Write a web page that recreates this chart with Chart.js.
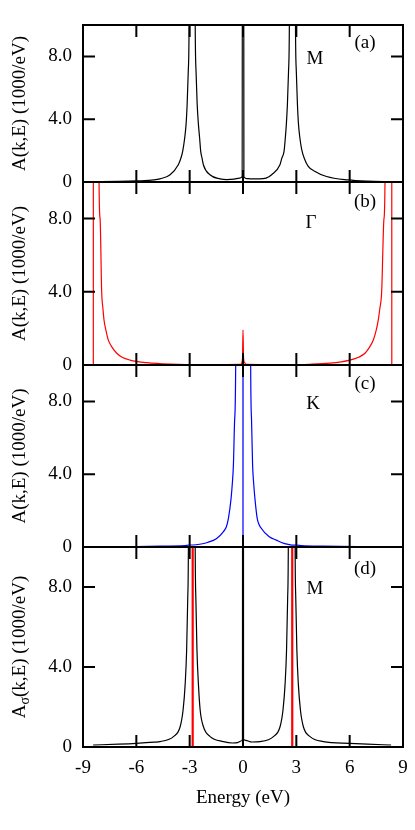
<!DOCTYPE html>
<html>
<head>
<meta charset="utf-8">
<title>Spectral function A(k,E)</title>
<script src="https://cdn.jsdelivr.net/npm/chart.js@4.4.1/dist/chart.umd.min.js"></script>
<style>
  body { margin: 0; background: #fff; }
  #wrap { position: relative; width: 415px; height: 830px; overflow: hidden; }
  #wrap canvas { position: absolute; left: 0; }
</style>
</head>
<body>
<div id="wrap">
  <canvas id="panelA"></canvas>
  <canvas id="panelB"></canvas>
  <canvas id="panelC"></canvas>
  <canvas id="panelD"></canvas>
</div>
<script>
// axis ticks
var energyTicks = [-9, -6, -3, 0, 3, 6, 9];
var intensityTicks = [0, 4, 8];

// (a) M point, A(k,E) in 1000/eV (80 = off scale)
var energyM   = [-8.4, -7.0, -6.0, -5.0, -4.67, -4.1, -3.64, -3.5, -3.39, -3.28, -3.2, -3.14, -3.08, -3.03, -2.86, -2.69, -2.64, -2.58, -2.51, -2.44, -2.38, -2.3, -2.23, -1.86, -1.29, -0.92, -0.5, -0.2, -0.05, 0, 0.05, 0.2, 0.4, 0.9, 1.3, 1.61, 2.08, 2.18, 2.31, 2.38, 2.44, 2.5, 2.56, 2.61, 2.78, 2.95, 3.0, 3.06, 3.12, 3.2, 3.3, 3.45, 3.67, 4.0, 4.7, 5.9, 7.0, 8.4];
var spectrumM = [0.02, 0.04, 0.07, 0.13, 0.2, 0.46, 1.1, 1.5, 1.97, 2.8, 3.7, 5.0, 7.0, 10.4, 80, 10.4, 7.0, 5.0, 3.7, 2.8, 1.97, 1.5, 1.1, 0.46, 0.2, 0.15, 0.18, 0.25, 0.35, 80, 0.33, 0.22, 0.2, 0.2, 0.25, 0.46, 1.1, 1.5, 1.97, 2.8, 3.7, 5.0, 7.0, 10.4, 80, 10.4, 7.0, 5.0, 3.7, 2.8, 2.08, 1.5, 1.0, 0.7, 0.35, 0.13, 0.05, 0.02];

// (b) Gamma point
var energyG   = [-8.42, -8.41, -8.15, -8.1, -8.04, -7.95, -7.88, -7.82, -7.7, -7.58, -7.35, -7.1, -6.8, -6.36, -5.42, -4.1, -2.0, -0.15, -0.03, 0, 0.03, 0.08, 0.2, 2.0, 3.77, 4.9, 6.02, 6.5, 6.86, 7.1, 7.33, 7.48, 7.61, 7.7, 7.8, 7.93, 7.99, 8.05, 8.36, 8.37];
var spectrumG = [0, 80, 80, 10.3, 8.0, 4.0, 3.1, 2.47, 1.85, 1.37, 0.95, 0.64, 0.42, 0.27, 0.13, 0.05, 0.02, 0.03, 0.3, 1.92, 0.4, 0.15, 0.03, 0.02, 0.04, 0.1, 0.27, 0.42, 0.64, 0.95, 1.37, 1.85, 2.47, 3.1, 4.0, 8.0, 10.3, 80, 80, 0];

// (c) K point
var energyK   = [-8.4, -6.0, -4.5, -3.3, -3.0, -2.8, -2.44, -2.0, -1.5, -1.1, -0.94, -0.82, -0.67, -0.6, -0.54, -0.47, -0.41, -0.3, -0.02, 0, 0.02, 0.3, 0.43, 0.48, 0.54, 0.6, 0.67, 0.8, 1.05, 1.5, 1.87, 2.3, 2.62, 2.8, 3.0, 3.3, 4.5, 6.4, 8.4];
var spectrumK = [0, 0.02, 0.05, 0.08, 0.11, 0.11, 0.15, 0.25, 0.45, 0.85, 1.1, 1.57, 2.67, 3.5, 4.49, 7.0, 10.3, 80, 80, 0, 80, 80, 10.3, 7.0, 4.49, 3.5, 2.67, 1.57, 1.0, 0.55, 0.38, 0.2, 0.13, 0.1, 0.11, 0.08, 0.05, 0.02, 0];

// (d) M point, sigma projected
var energyMs   = [-8.43, -7.0, -6.0, -5.0, -4.66, -3.91, -3.54, -3.37, -3.25, -3.17, -3.11, -3.07, -2.88, -2.69, -2.65, -2.59, -2.51, -2.41, -2.22, -1.85, -1.1, -0.6, -0.3, -0.1, -0.03, 0, 0.03, 0.15, 0.5, 0.96, 1.71, 2.08, 2.25, 2.37, 2.45, 2.51, 2.55, 2.74, 2.93, 2.97, 3.03, 3.11, 3.23, 3.4, 3.77, 4.52, 6.0, 7.0, 8.33];
var spectrumMs = [0.1, 0.14, 0.18, 0.24, 0.27, 0.52, 1.0, 1.85, 3.18, 4.85, 7.35, 10.3, 80, 10.3, 7.35, 4.85, 3.18, 1.85, 1.0, 0.52, 0.27, 0.2, 0.22, 0.3, 0.4, 80, 0.4, 0.33, 0.25, 0.27, 0.52, 1.0, 1.85, 3.18, 4.85, 7.35, 10.3, 80, 10.3, 7.35, 4.85, 3.18, 1.85, 1.0, 0.52, 0.27, 0.18, 0.14, 0.1];
var deltaEnergies = [-2.83, 2.77];
var deltaHeights = [0, 80];

var serif = '"Liberation Serif", "Times New Roman", serif';

function points(xs, ys) {
  return xs.map(function (x, i) { return { x: x, y: ys[i] }; });
}

function curve(xs, ys, color) {
  return {
    data: points(xs, ys),
    borderColor: color,
    borderWidth: 1.2,
    pointRadius: 0,
    fill: false,
    cubicInterpolationMode: 'monotone'
  };
}

function deltaLine(e) {
  return {
    data: points([e, e], deltaHeights),
    borderColor: '#ff0000',
    borderWidth: 2.2,
    pointRadius: 0,
    fill: false
  };
}

// frame, inward ticks, panel tags and y title
var panelFrame = {
  id: 'panelFrame',
  afterDatasetsDraw: function (chart, args, opts) {
    var ctx = chart.ctx, a = chart.chartArea;
    var xs = chart.scales.x, ys = chart.scales.y;
    ctx.save();
    ctx.strokeStyle = '#000';
    ctx.lineWidth = 2;
    ctx.strokeRect(a.left, a.top, a.right - a.left, a.bottom - a.top);
    ctx.beginPath();
    energyTicks.forEach(function (v) {
      if (v <= xs.min || v >= xs.max) return;
      var px = xs.getPixelForValue(v);
      ctx.moveTo(px, a.top); ctx.lineTo(px, a.top + 12);
      ctx.moveTo(px, a.bottom); ctx.lineTo(px, a.bottom - 12);
    });
    intensityTicks.forEach(function (v) {
      if (v <= ys.min || v >= ys.max) return;
      var py = ys.getPixelForValue(v);
      ctx.moveTo(a.left, py); ctx.lineTo(a.left + 12, py);
      ctx.moveTo(a.right, py); ctx.lineTo(a.right - 12, py);
    });
    ctx.stroke();

    ctx.fillStyle = '#000';
    ctx.font = '19px ' + serif;
    ctx.textAlign = 'center';
    ctx.textBaseline = 'alphabetic';
    ctx.fillText(opts.tag, xs.getPixelForValue(6.86), a.top + opts.tagDy);
    ctx.fillText(opts.point, xs.getPixelForValue(opts.pointX), a.top + opts.pointDy);

    // rotated y title, with optional subscript
    var parts = opts.title;
    var widths = parts.map(function (p) {
      ctx.font = (p.sub ? '14px ' : '19px ') + serif;
      return ctx.measureText(p.t).width;
    });
    var total = widths.reduce(function (s, w) { return s + w; }, 0);
    ctx.translate(18.5, (a.top + a.bottom) / 2);
    ctx.rotate(-Math.PI / 2);
    ctx.textAlign = 'left';
    var cx = -total / 2;
    parts.forEach(function (p, i) {
      ctx.font = (p.sub ? '14px ' : '19px ') + serif;
      ctx.fillText(p.t, cx, p.sub ? 10 : 6.5);
      cx += widths[i];
    });
    ctx.restore();
  }
};

function makePanel(id, cfg) {
  var canvas = document.getElementById(id);
  var showX = !!cfg.showX;
  var canvasTop = cfg.top - 20;
  var canvasBottom = showX ? 830 : cfg.bottom + 14;
  var padBottom = showX ? 17 : 14;
  canvas.width = 415;
  canvas.height = canvasBottom - canvasTop;
  canvas.style.top = canvasTop + 'px';

  return new Chart(canvas, {
    type: 'line',
    data: { datasets: cfg.datasets },
    options: {
      responsive: false,
      animation: false,
      events: [],
      layout: { padding: { top: 20, bottom: padBottom, left: 0, right: 12 } },
      plugins: {
        legend: { display: false },
        tooltip: { enabled: false },
        panelFrame: { tag: cfg.tag, tagDy: cfg.tagDy, point: cfg.point, pointX: cfg.pointX, pointDy: cfg.pointDy, title: cfg.title }
      },
      scales: {
        x: {
          type: 'linear', min: -9, max: 9,
          display: showX,
          afterBuildTicks: function (s) { s.ticks = energyTicks.map(function (v) { return { value: v }; }); },
          afterFit: function (s) {
            s.paddingLeft = 0; s.paddingRight = 0;
            if (showX) s.height = canvasBottom - padBottom - cfg.bottom;
          },
          grid: { display: false, drawTicks: false },
          border: { display: false },
          ticks: {
            color: '#000', padding: 10, maxRotation: 0, autoSkip: false,
            font: { family: serif, size: 19 },
            callback: function (v) { return String(v); }
          },
          title: {
            display: true, text: 'Energy (eV)', color: '#000',
            font: { family: serif, size: 19 }, padding: { top: 4, bottom: 4 }
          }
        },
        y: {
          type: 'linear', min: 0, max: 10,
          afterBuildTicks: function (s) { s.ticks = intensityTicks.map(function (v) { return { value: v }; }); },
          afterFit: function (s) { s.width = 83; s.paddingTop = 0; s.paddingBottom = 0; },
          grid: { display: false, drawTicks: false },
          border: { display: false },
          ticks: {
            color: '#000', padding: 11,
            font: { family: serif, size: 19 },
            callback: function (v) { return v === 0 ? '0' : v.toFixed(1); }
          }
        }
      }
    },
    plugins: [panelFrame]
  });
}

var plainTitle = [{ t: 'A(k,E) (1000/eV)' }];

makePanel('panelA', {
  top: 25, bottom: 182,
  datasets: [curve(energyM, spectrumM, '#000000')],
  tag: '(a)', tagDy: 22.5, point: 'M', pointX: 4.05, pointDy: 39,
  title: plainTitle
});
makePanel('panelB', {
  top: 182, bottom: 365,
  datasets: [curve(energyG, spectrumG, '#ff0000')],
  tag: '(b)', tagDy: 25.4, point: '\u0393', pointX: 3.82, pointDy: 46.3,
  title: plainTitle
});
makePanel('panelC', {
  top: 365, bottom: 547,
  datasets: [curve(energyK, spectrumK, '#0000ff')],
  tag: '(c)', tagDy: 24.4, point: 'K', pointX: 3.94, pointDy: 44.3,
  title: plainTitle
});
makePanel('panelD', {
  top: 547, bottom: 747, showX: true,
  datasets: deltaEnergies.map(deltaLine).concat([curve(energyMs, spectrumMs, '#000000')]),
  tag: '(d)', tagDy: 27.4, point: 'M', pointX: 4.05, pointDy: 47.3,
  title: [{ t: 'A' }, { t: '\u03c3', sub: true }, { t: '(k,E) (1000/eV)' }]
});
</script>
</body>
</html>
